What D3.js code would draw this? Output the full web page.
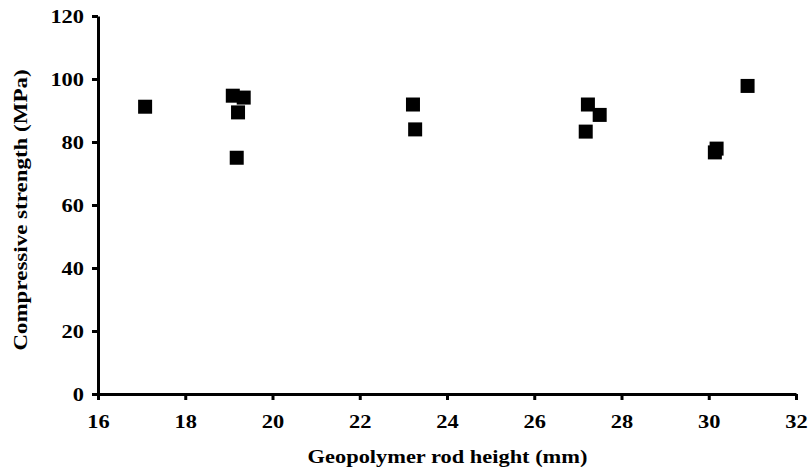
<!DOCTYPE html>
<meta charset="utf-8">
<head>
<title>Compressive strength vs rod height</title>
<style>
  body { margin: 0; background: white; }
  text { font-family: "Liberation Serif", "Times New Roman", serif; font-weight: bold; }
</style>
</head>
<body>
<div id="chart"></div>
<script src="https://d3js.org/d3.v7.min.js"></script>
<script>

// rod height (mm) and compressive strength (MPa)
var heights   = [17.08, 19.09, 19.34, 19.21, 19.18, 23.22, 23.27, 27.23, 27.50, 27.18, 30.89, 30.18, 30.14];
var strengths = [91.2,  94.7,  94.1,  89.4,  75.0,  91.9,  84.0,  91.9,  88.6,  83.3,  97.8,  77.9,  76.7];
var xTicks = [16, 18, 20, 22, 24, 26, 28, 30, 32];
var yTicks = [0, 20, 40, 60, 80, 100, 120];

var data = heights.map(function(h, i) { return {x: h, y: strengths[i]}; });

var W = 808, H = 472;
var margin = {top: 16, right: 12, bottom: 78, left: 98},
    width = W - margin.left - margin.right,
    height = H - margin.top - margin.bottom;

// the original text is a bit wide, stretch it along the reading direction
var stretch = 1.18;
var fsize = "19px";

var svg = d3.select("#chart")
  .append("svg")
    .attr("width", W)
    .attr("height", H)
  .append("g")
    .attr("transform", "translate(" + margin.left + "," + margin.top + ")");

var x = d3.scaleLinear().domain([16, 32]).range([0, width]);
var y = d3.scaleLinear().domain([0, 120]).range([height, 0]);

var xAxis = svg.append("g")
    .attr("transform", "translate(0," + height + ")")
    .call(d3.axisBottom(x).tickValues(xTicks).tickSize(6).tickSizeOuter(0));

var yAxis = svg.append("g")
    .call(d3.axisLeft(y).tickValues(yTicks).tickSize(6).tickSizeOuter(0));

[xAxis, yAxis].forEach(function(a) {
  a.select(".domain").attr("stroke", "black").attr("stroke-width", 3);
  a.selectAll(".tick line").attr("stroke", "black").attr("stroke-width", 3);
  a.selectAll(".tick text")
    .style("font-family", "'Liberation Serif', 'Times New Roman', serif")
    .style("font-weight", "bold")
    .style("font-size", fsize)
    .attr("fill", "black");
});

xAxis.selectAll(".tick text")
    .attr("y", 0).attr("dy", null)
    .attr("transform", "translate(0,34) scale(" + stretch + ",1)");

yAxis.selectAll(".tick text")
    .attr("x", 0)
    .attr("transform", "translate(-14,0) scale(" + stretch + ",1)");

var s = 14;
svg.selectAll("rect.pt")
  .data(data)
  .enter().append("rect")
    .attr("class", "pt")
    .attr("x", function(d) { return x(d.x) - s / 2; })
    .attr("y", function(d) { return y(d.y) - s / 2; })
    .attr("width", s)
    .attr("height", s)
    .attr("fill", "black");

svg.append("text")
    .attr("text-anchor", "middle")
    .attr("transform", "translate(" + (447.5 - margin.left) + "," + (height + 69) + ") scale(" + stretch + ",1)")
    .style("font-size", fsize)
    .text("Geopolymer rod height (mm)");

svg.append("text")
    .attr("text-anchor", "middle")
    .attr("transform", "translate(" + (27 - margin.left) + "," + (210 - margin.top) + ") rotate(-90) scale(" + (stretch + 0.03) + ",1)")
    .style("font-size", fsize)
    .text("Compressive strength (MPa)");

</script>
</body>
